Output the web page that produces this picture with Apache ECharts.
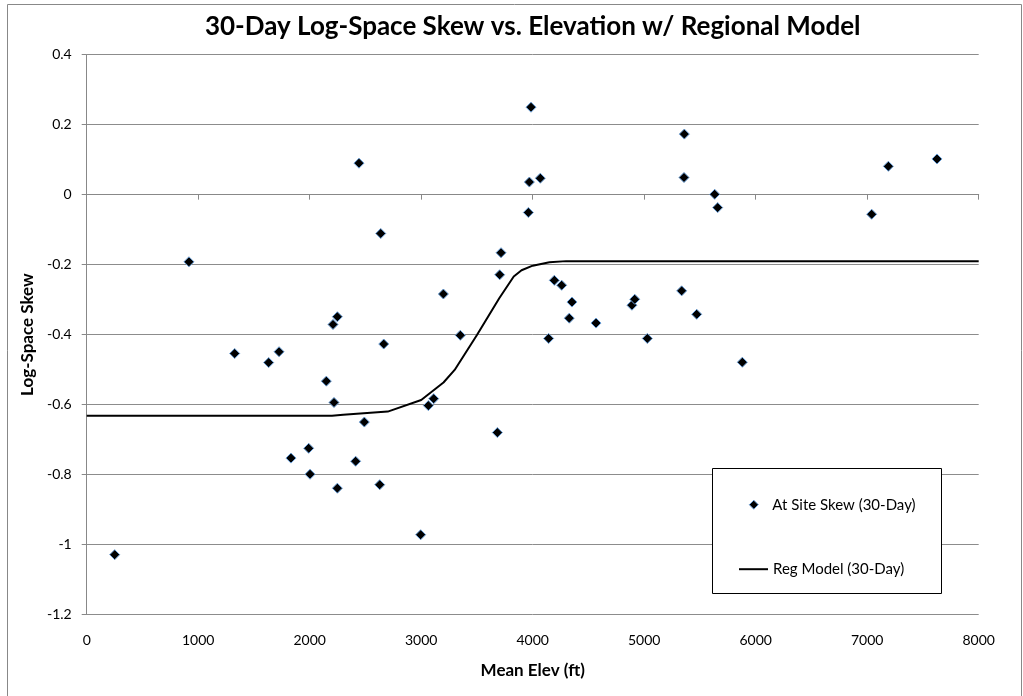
<!DOCTYPE html>
<html>
<head>
<meta charset="utf-8">
<script src="https://cdn.jsdelivr.net/npm/echarts@6/dist/echarts.min.js"></script>
<style>
  html, body { margin: 0; padding: 0; background: #fff; }
  #chart { width: 1023px; height: 696px; }
</style>
</head>
<body>
<div id="chart"></div>
<script>
// At-site 30-day log-space skew by mean basin elevation
const siteElev = [251, 917, 1327, 1632, 1725, 1832, 1991, 2003, 2149, 2209,
  2218, 2248, 2248, 2412, 2442, 2490, 2628, 2637, 2664, 2995,
  3064, 3112, 3199, 3351, 3683, 3704, 3716, 3961, 3970, 3985,
  4068, 4143, 4194, 4260, 4328, 4352, 4568, 4890, 4915, 5028,
  5336, 5357, 5360, 5471, 5632, 5659, 5880, 7040, 7190, 7626];
const siteSkew = [-1.029, -0.192, -0.454, -0.480, -0.449, -0.753, -0.725, -0.799, -0.533, -0.371,
  -0.594, -0.349, -0.839, -0.762, 0.090, -0.650, -0.829, -0.111, -0.427, -0.972,
  -0.603, -0.583, -0.284, -0.402, -0.680, -0.229, -0.166, -0.051, 0.036, 0.250,
  0.047, -0.411, -0.245, -0.259, -0.353, -0.307, -0.367, -0.316, -0.299, -0.411,
  -0.275, 0.049, 0.173, -0.342, 0.001, -0.037, -0.479, -0.056, 0.081, 0.102];

// Regional model curve
const modelElev = [0, 2200, 2300, 2700, 3000, 3200, 3300, 3500, 3700, 3830, 3900, 4000, 4150, 4300, 8000];
const modelSkew = [-0.632, -0.632, -0.629, -0.620, -0.587, -0.537, -0.501, -0.401, -0.296, -0.234, -0.216, -0.203, -0.193, -0.190, -0.190];

const xTicks = [0, 1000, 2000, 3000, 4000, 5000, 6000, 7000, 8000];
const yTicks = [-1.2, -1, -0.8, -0.6, -0.4, -0.2, 0, 0.2, 0.4];

const FONT = 'Lato, "Noto Sans", sans-serif';
const siteName = 'At Site Skew (30-Day)';
const modelName = 'Reg Model (30-Day)';

const chart = echarts.init(document.getElementById('chart'), null, { renderer: 'canvas' });

const gridLeft = 86.7, gridRight = 44.3, gridTop = 54.7, gridBottom = 81.5;
const plotCenterX = gridLeft + (1023 - gridLeft - gridRight) / 2;

chart.setOption({
  backgroundColor: '#fff',
  animation: false,
  title: {
    text: '30-Day Log-Space Skew vs. Elevation w/ Regional Model',
    left: plotCenterX,
    top: 27,
    textAlign: 'center',
    textVerticalAlign: 'middle',
    padding: 0,
    textStyle: { fontFamily: FONT, fontWeight: 'bold', fontSize: 26, color: '#000' }
  },
  grid: { left: gridLeft, right: gridRight, top: gridTop, bottom: gridBottom, containLabel: false },
  xAxis: {
    type: 'value',
    min: xTicks[0],
    max: xTicks[xTicks.length - 1],
    interval: 1000,
    name: 'Mean Elev (ft)',
    nameLocation: 'middle',
    nameGap: 48,
    nameTextStyle: { fontFamily: FONT, fontWeight: 'bold', fontSize: 17, color: '#000' },
    axisLine: { lineStyle: { color: '#888', width: 1 } },
    axisTick: { show: true, inside: false, length: 5, lineStyle: { color: '#888' } },
    axisLabel: { margin: 19, fontFamily: FONT, fontSize: 14, color: '#000', formatter: v => String(v) },
    splitLine: { show: false }
  },
  yAxis: {
    type: 'value',
    min: yTicks[0],
    max: yTicks[yTicks.length - 1],
    interval: 0.2,
    name: 'Log-Space Skew',
    nameLocation: 'middle',
    nameGap: 49,
    nameRotate: 90,
    nameTextStyle: { fontFamily: FONT, fontWeight: 'bold', fontSize: 17, color: '#000' },
    axisLine: { show: true, lineStyle: { color: '#888', width: 1 } },
    axisTick: { show: true, inside: false, length: 5, lineStyle: { color: '#888' } },
    axisLabel: {
      margin: 15, fontFamily: FONT, fontSize: 14, color: '#000',
      formatter: v => String(Math.round(v * 10) / 10)
    },
    splitLine: { show: true, lineStyle: { color: '#8c8c8c', width: 1 } }
  },
  legend: [
    {
      data: [{
        name: siteName, icon: 'diamond',
        itemStyle: { color: '#000', borderColor: '#6a9fd8', borderWidth: 1 }
      }],
      left: 748.8, top: 497.2, orient: 'vertical', padding: 0,
      itemWidth: 9, itemHeight: 9, z: 20,
      textStyle: { fontFamily: FONT, fontSize: 15, color: '#000', padding: [0, 0, 0, 9] }
    },
    {
      data: [{ name: modelName, icon: 'rect' }],
      left: 739, top: 561.7, orient: 'vertical', padding: 0,
      itemWidth: 29, itemHeight: 2, z: 20,
      itemStyle: { color: '#000', borderWidth: 0 },
      textStyle: { fontFamily: FONT, fontSize: 15, color: '#000' }
    }
  ],
  graphic: [
    {
      type: 'rect', z: -10, silent: true,
      shape: { x: 7.5, y: 4.5, width: 1014, height: 700 },
      style: { fill: 'none', stroke: '#888', lineWidth: 1 }
    },
    {
      type: 'rect', z: 10, silent: true,
      shape: { x: 712.5, y: 468.5, width: 229, height: 125 },
      style: { fill: '#fff', stroke: '#000', lineWidth: 1 }
    }
  ],
  series: [
    {
      name: siteName,
      type: 'scatter',
      symbol: 'diamond',
      symbolSize: 10,
      z: 3,
      itemStyle: { color: '#000', borderColor: '#6a9fd8', borderWidth: 1, opacity: 1 },
      data: siteElev.map((e, i) => [e, siteSkew[i]])
    },
    {
      name: modelName,
      type: 'line',
      symbol: 'none',
      smooth: false,
      z: 2,
      lineStyle: { color: '#000', width: 2 },
      itemStyle: { color: '#000' },
      data: modelElev.map((e, i) => [e, modelSkew[i]])
    }
  ]
});
</script>
</body>
</html>
